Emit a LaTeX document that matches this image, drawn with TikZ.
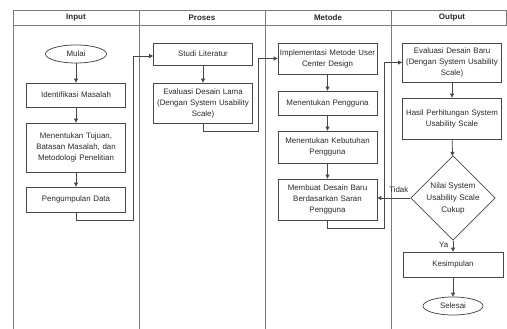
\documentclass[tikz,border=0pt]{standalone}
\usepackage{fontspec}
\setmainfont{Liberation Sans}
\usetikzlibrary{shapes.geometric,arrows.meta}
\definecolor{lanegray}{HTML}{7A7A7A}
\definecolor{boxgray}{HTML}{484848}
\definecolor{txtgray}{HTML}{2A2A2A}
\begin{document}
\begin{tikzpicture}[x=1pt,y=-1pt,
  lane/.style={draw=lanegray,line width=0.8pt},
  procbox/.style={draw=boxgray,line width=0.75pt,rectangle,minimum width=99pt,
    text width=97pt,align=center,font=\fontsize{7.9}{11}\selectfont,text=txtgray,inner sep=1pt},
  termnode/.style={draw=boxgray,line width=0.75pt,ellipse,minimum width=61pt,minimum height=18pt,
    inner sep=0pt,font=\fontsize{7.9}{11}\selectfont,text=txtgray},
  decide/.style={draw=boxgray,line width=0.75pt,diamond,minimum width=72pt,minimum height=75pt,
    inner sep=0pt,align=center,font=\fontsize{8.1}{12}\selectfont,text=txtgray},
  flow/.style={draw=boxgray,line width=0.75pt,-{Triangle[length=4pt,width=4pt]}},
  hdr/.style={font=\bfseries\fontsize{8}{10}\selectfont,text=txtgray},
  lbl/.style={font=\fontsize{7.9}{10}\selectfont,text=txtgray}]
\useasboundingbox[fill=white] (0,0) rectangle (507,329);

% swimlane frame and headers
\draw[lane] (13,329) -- (13,10) -- (506,10) -- (506,25) -- (13,25);
\foreach \lx in {139,265,391} \draw[lane] (\lx,10) -- (\lx,329);
\node[hdr] at (76,17.5) {Input};
\node[hdr] at (202,17.5) {Proses};
\node[hdr] at (328,17.5) {Metode};
\node[hdr] at (452,17.5) {Output};

% Input lane
\node[termnode] (mulai) at (76,54) {Mulai};
\node[procbox,minimum height=24pt] (identifikasi) at (76,95) {Identifikasi Masalah};
\node[procbox,minimum height=49pt] (tujuan) at (76,147.5) {Menentukan Tujuan,\\Batasan Masalah, dan\\Metodologi Penelitian};
\node[procbox,minimum height=25pt] (kumpul) at (76,199.5) {Pengumpulan Data};

% Proses lane
\node[procbox,minimum height=22pt] (studi) at (203,54) {Studi Literatur};
\node[procbox,minimum height=40pt] (evallama) at (203,103) {Evaluasi Desain Lama\\(Dengan System Usability\\Scale)};

% Metode lane
\node[procbox,minimum height=31pt] (implementasi) at (327.5,58.5) {Implementasi Metode User\\Center Design};
\node[procbox,minimum height=24pt] (pengguna) at (327.5,103) {Menentukan Pengguna};
\node[procbox,minimum height=32pt] (kebutuhan) at (327.5,147) {Menentukan Kebutuhan\\Pengguna};
\node[procbox,minimum height=41pt] (membuat) at (327.5,199.5) {Membuat Desain Baru\\Berdasarkan Saran\\Pengguna};

% Output lane
\node[procbox,minimum height=39pt,minimum width=97pt] (evalbaru) at (452,62.5) {Evaluasi Desain Baru\\(Dengan System Usability\\Scale)};
\node[procbox,minimum height=41pt,minimum width=97pt] (hasil) at (452,118.5) {Hasil Perhitungan System\\Usability Scale};
\node[decide] (nilai) at (453,198) {Nilai System\\Usability Scale\\Cukup};
\node[procbox,minimum height=25pt,minimum width=100pt] (simpulan) at (453,264.5) {Kesimpulan};
\node[termnode,minimum width=60pt] (selesai) at (453,306) {Selesai};

% connectors within lanes
\draw[flow] (mulai) -- (identifikasi);
\draw[flow] (identifikasi) -- (tujuan);
\draw[flow] (tujuan) -- (kumpul);
\draw[flow] (studi) -- (evallama);
\draw[flow] (implementasi) -- (pengguna);
\draw[flow] (pengguna) -- (kebutuhan);
\draw[flow] (kebutuhan) -- (membuat);
\draw[flow] (evalbaru) -- (hasil);
\draw[flow] (hasil) -- (nilai);
\draw[flow] (nilai) -- node[lbl,left,pos=0.35,xshift=-1pt] {Ya} (simpulan);
\draw[flow] (simpulan) -- (selesai);
\draw[flow] (nilai.west) -- node[lbl,above,pos=0.35,yshift=2pt] {Tidak} (membuat.east |- nilai.west);

% connectors between lanes
\draw[flow] (kumpul.south) -- ++(0,8) -| (133,56) -- (studi.west |- 0,56);
\draw[flow] (evallama.south) -- ++(0,8) -| (258,58.5) -- (implementasi.west);
\draw[flow] (membuat.south) -- ++(0,8) -| (384,62.5) -- (evalbaru.west);
\end{tikzpicture}
\end{document}
